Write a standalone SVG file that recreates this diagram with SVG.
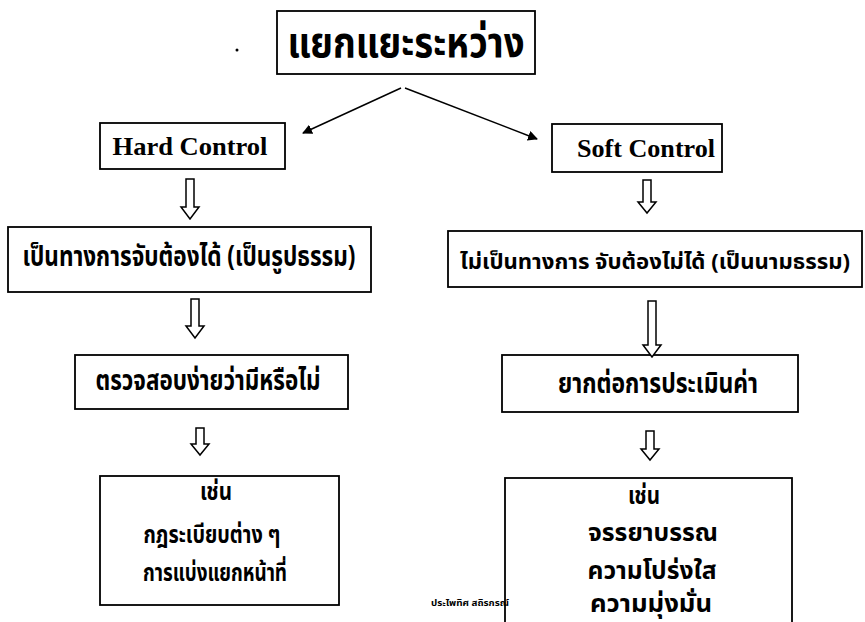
<svg xmlns="http://www.w3.org/2000/svg" width="865" height="622" viewBox="0 0 865 622">
<style>
.box{fill:#fff;stroke:#000;stroke-width:1.8}
.th{font-family:"Noto Sans Thai","Noto Sans","DejaVu Sans",sans-serif;font-weight:bold;fill:#000;text-anchor:middle}
.en{font-family:"Liberation Serif","Times New Roman",serif;font-weight:bold;fill:#000;text-anchor:middle}
.ln{stroke:#000;stroke-width:1.5;fill:none}
.ha{fill:#fff;stroke:#000;stroke-width:1.5}
</style>
<defs>
<marker id="ah" viewBox="0 0 10 10" refX="9" refY="5" markerWidth="10" markerHeight="10" markerUnits="userSpaceOnUse" orient="auto">
<path d="M0,0 L10,5 L0,10 Z" fill="#000"/>
</marker>
</defs>
<rect width="865" height="622" fill="#fff"/>
<circle cx="237" cy="50" r="1.5" fill="#000"/>
<g id="top">
<rect class="box" x="277" y="11" width="258" height="63"/>
<text class="th" x="406" y="57" font-size="42" textLength="237" lengthAdjust="spacingAndGlyphs">แยกแยะระหว่าง</text>
</g>
<g id="hard">
<rect class="box" x="100" y="123" width="185" height="46"/>
<text class="en" x="190" y="155" font-size="26" textLength="155" lengthAdjust="spacingAndGlyphs">Hard Control</text>
</g>
<g id="soft">
<rect class="box" x="552" y="124" width="170" height="48"/>
<text class="en" x="646" y="157" font-size="26" textLength="138" lengthAdjust="spacingAndGlyphs">Soft Control</text>
</g>
<g id="hard2">
<rect class="box" x="8" y="227" width="363" height="65"/>
<text class="th" x="189" y="266" font-size="28" textLength="333" lengthAdjust="spacingAndGlyphs">เป็นทางการจับต้องได้ (เป็นรูปธรรม)</text>
</g>
<g id="soft2">
<rect class="box" x="448" y="231" width="414" height="56"/>
<text class="th" x="655" y="269" font-size="22" textLength="390" lengthAdjust="spacingAndGlyphs">ไม่เป็นทางการ จับต้องไม่ได้ (เป็นนามธรรม)</text>
</g>
<g id="hard3">
<rect class="box" x="75" y="355" width="273" height="54"/>
<text class="th" x="208" y="390" font-size="28" textLength="225" lengthAdjust="spacingAndGlyphs">ตรวจสอบง่ายว่ามีหรือไม่</text>
</g>
<g id="soft3">
<rect class="box" x="502" y="355" width="296" height="57"/>
<text class="th" x="658" y="393" font-size="28" textLength="200" lengthAdjust="spacingAndGlyphs">ยากต่อการประเมินค่า</text>
</g>
<g id="hard4">
<rect class="box" x="100" y="476" width="239" height="129"/>
<text class="th" x="216" y="500" font-size="24" textLength="32" lengthAdjust="spacingAndGlyphs">เช่น</text>
<text class="th" x="212" y="543" font-size="24" textLength="137" lengthAdjust="spacingAndGlyphs">กฎระเบียบต่าง ๆ</text>
<text class="th" x="215" y="581" font-size="24" textLength="144" lengthAdjust="spacingAndGlyphs">การแบ่งแยกหน้าที่</text>
</g>
<g id="soft4">
<rect class="box" x="505" y="478" width="287" height="160"/>
<text class="th" x="644" y="504" font-size="24" textLength="32" lengthAdjust="spacingAndGlyphs">เช่น</text>
<text class="th" x="653" y="541" font-size="24" textLength="130" lengthAdjust="spacingAndGlyphs">จรรยาบรรณ</text>
<text class="th" x="652" y="579" font-size="24" textLength="129" lengthAdjust="spacingAndGlyphs">ความโปร่งใส</text>
<text class="th" x="651" y="612" font-size="24" textLength="122" lengthAdjust="spacingAndGlyphs">ความมุ่งมั่น</text>
</g>
<g id="credit">
<text class="th" x="470" y="606" font-size="9" textLength="78" lengthAdjust="spacingAndGlyphs">ประไพทิศ  สถิรกรณ์</text>
</g>
<g id="connectors">
<line class="ln" x1="401" y1="88" x2="303" y2="133" marker-end="url(#ah)"/>
<line class="ln" x1="405" y1="88" x2="537" y2="139" marker-end="url(#ah)"/>
<path class="ha" d="M186,179 V207 H181 L190,219 L199,207 H194 V179 Z"/>
<path class="ha" d="M643,180 V202 H638 L647,213 L656,202 H651 V180 Z"/>
<path class="ha" d="M191,299 V326 H186 L195,338 L204,326 H199 V299 Z"/>
<path class="ha" d="M648,301 V345 H643 L652,357 L661,345 H656 V301 Z"/>
<path class="ha" d="M196,428 V444 H191 L200,455 L209,444 H204 V428 Z"/>
<path class="ha" d="M646,431 V449 H641 L650,460 L659,449 H654 V431 Z"/>
</g>
</svg>
